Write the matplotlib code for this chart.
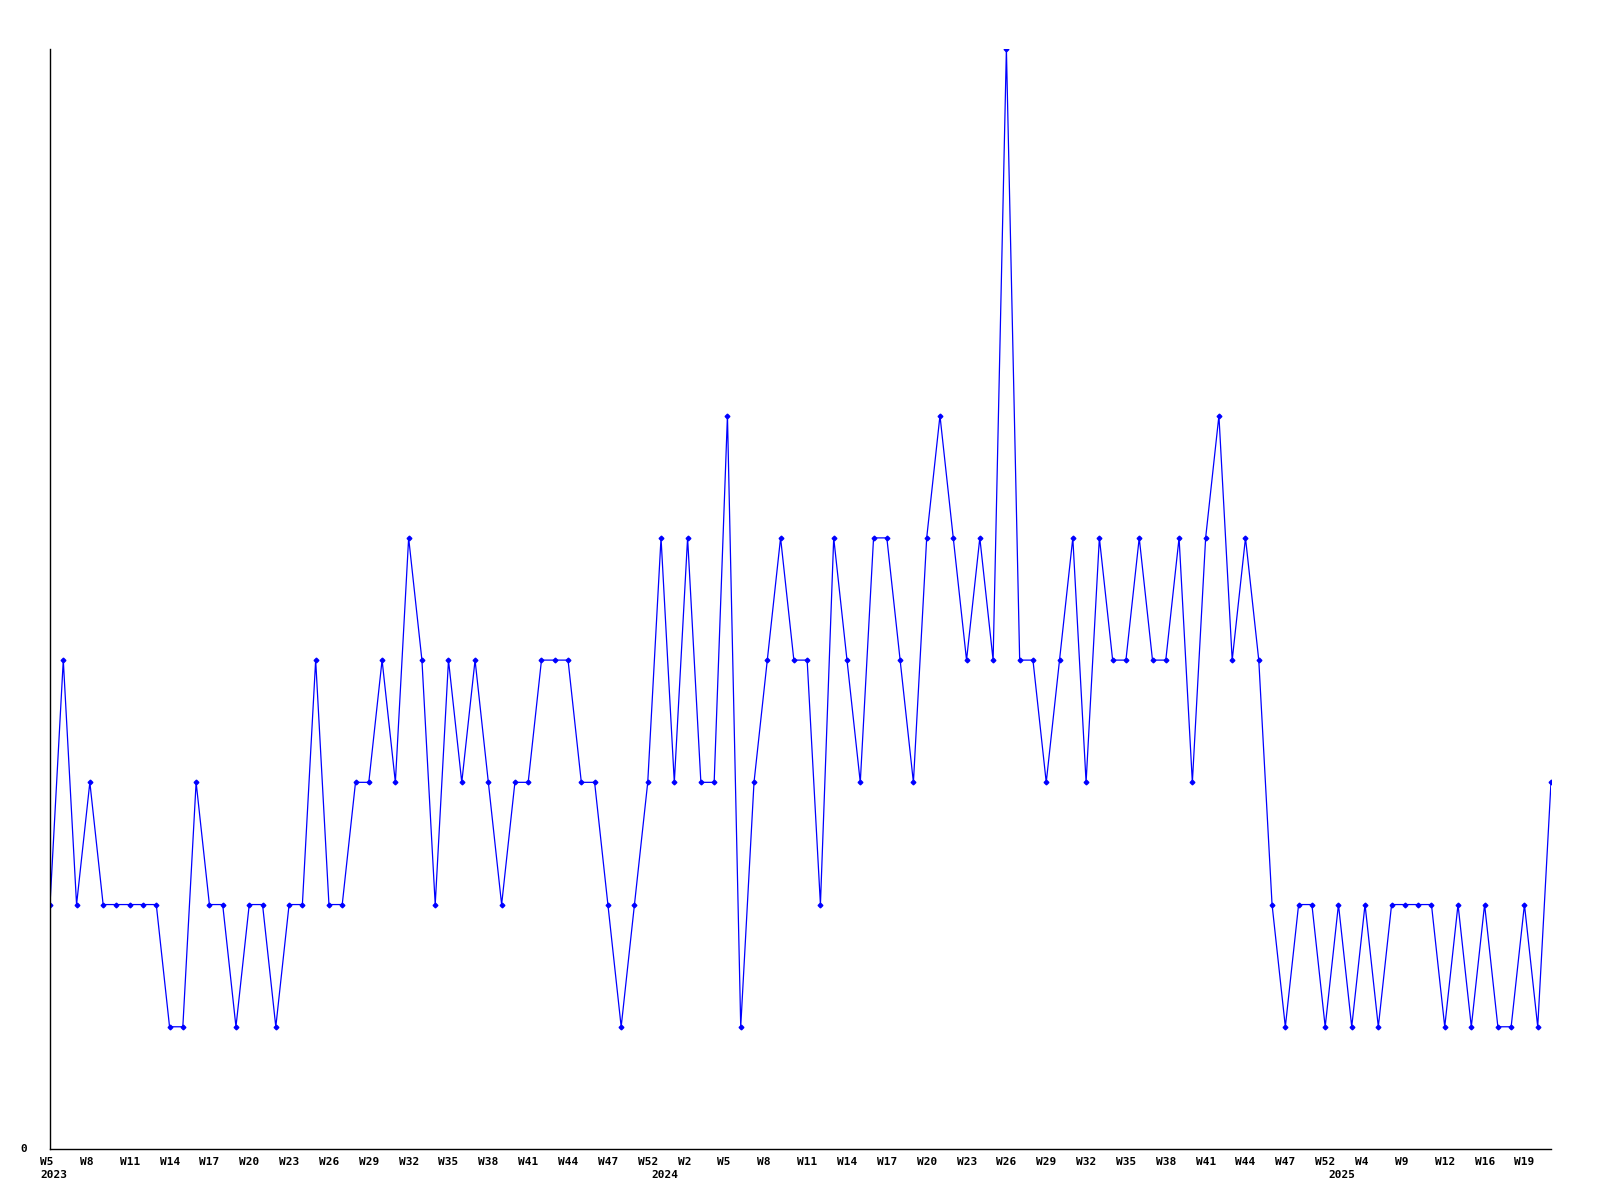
import matplotlib.pyplot as plt
import matplotlib.transforms as mtransforms

# weekly counts, one point per week (2023 W5 .. 2025 W21)
values = [2, 4, 2, 3, 2, 2, 2, 2, 2, 1, 1, 3, 2, 2, 1, 2, 2, 1, 2, 2,
          4, 2, 2, 3, 3, 4, 3, 5, 4, 2, 4, 3, 4, 3, 2, 3, 3, 4, 4, 4,
          3, 3, 2, 1, 2, 3, 5, 3, 5, 3, 3, 6, 1, 3, 4, 5, 4, 4, 2, 5,
          4, 3, 5, 5, 4, 3, 5, 6, 5, 4, 5, 4, 9, 4, 4, 3, 4, 5, 3, 5,
          4, 4, 5, 4, 4, 5, 3, 5, 6, 4, 5, 4, 2, 1, 2, 2, 1, 2, 1, 2,
          1, 2, 2, 2, 2, 1, 2, 1, 2, 1, 1, 2, 1, 3]

# labels shown on every third week
week_labels = ["W5", "W8", "W11", "W14", "W17", "W20", "W23", "W26",
               "W29", "W32", "W35", "W38", "W41", "W44", "W47", "W52",
               "W2", "W5", "W8", "W11", "W14", "W17", "W20", "W23",
               "W26", "W29", "W32", "W35", "W38", "W41", "W44", "W47",
               "W52", "W4", "W9", "W12", "W16", "W19"]
year_labels = ["2023", "2024", "2025"]
year_starts = [0, 46, 97]

x = list(range(len(values)))

fig = plt.figure(figsize=(16, 12), dpi=100)
ax = fig.add_axes([50 / 1600, 1 - 1149 / 1200, 1501 / 1600, 1100 / 1200])

ax.plot(x, values, color="#0000ff", linewidth=0.9, marker="D",
        markersize=2.4, clip_on=True)

ax.set_xlim(0, len(values) - 1)
ax.set_ylim(0, 9)
for side in ["top", "right"]:
    ax.spines[side].set_visible(False)
ax.spines["left"].set_linewidth(1)
ax.spines["bottom"].set_linewidth(1)
ax.set_xticks([])
ax.set_yticks([])

font = dict(family="DejaVu Sans Mono", fontweight="bold", fontsize=8)
shift = mtransforms.ScaledTranslation(-10 / 100, 0, fig.dpi_scale_trans)
trans = ax.get_xaxis_transform() + shift

for i, lab in enumerate(week_labels):
    ax.text(i * 3, -0.012, lab, transform=trans, ha="left", va="center", **font)

for pos, lab in zip(year_starts, year_labels):
    ax.text(pos, -0.024, lab, transform=trans, ha="left", va="center", **font)

ax.text(-0.015, 0, "0", transform=ax.get_yaxis_transform(), ha="right",
        va="center", **font)

fig.savefig("out.png", dpi=100)
